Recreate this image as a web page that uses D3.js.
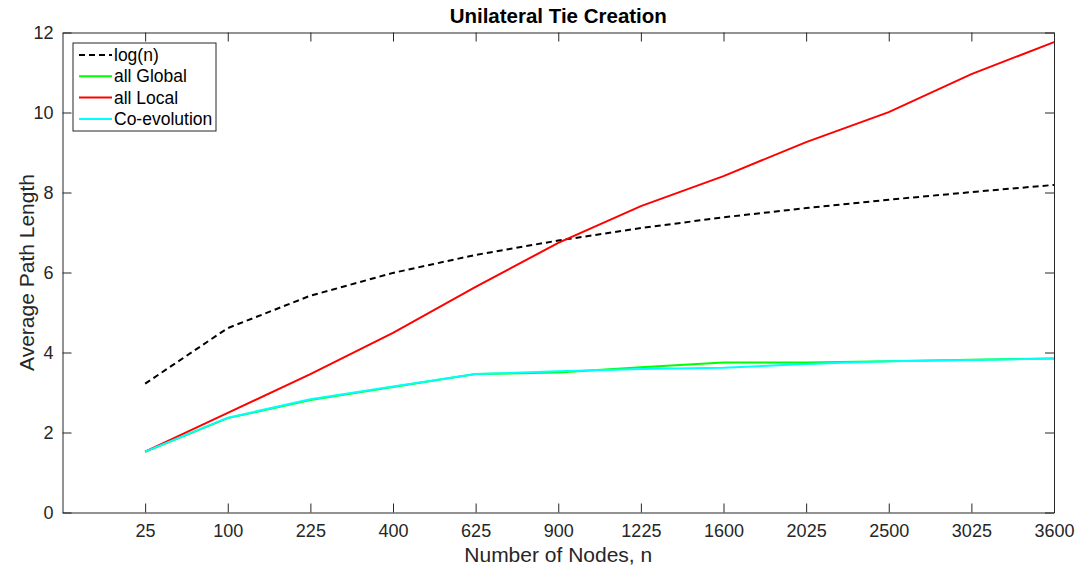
<!DOCTYPE html>
<html>
<head>
<meta charset="utf-8">
<script src="https://cdn.jsdelivr.net/npm/d3@7"></script>
<style>
  body { margin: 0; background: #fff; }
  text { font-family: "Liberation Sans", Arial, Helvetica, sans-serif; fill: #262626; }
</style>
</head>
<body>
<div id="chart"></div>
<script>
// node counts shown on the x axis (plotted at evenly spaced positions 1..12)
const nodes = ["25", "100", "225", "400", "625", "900", "1225", "1600", "2025", "2500", "3025", "3600"];

const logN        = [3.22, 4.61, 5.42, 5.99, 6.44, 6.80, 7.11, 7.38, 7.61, 7.82, 8.01, 8.19];
const allGlobal   = [1.52, 2.36, 2.81, 3.14, 3.46, 3.50, 3.63, 3.75, 3.75, 3.78, 3.82, 3.85];
const allLocal    = [1.52, 2.49, 3.46, 4.49, 5.64, 6.74, 7.66, 8.41, 9.26, 10.01, 10.96, 11.76];
const coEvolution = [1.52, 2.37, 2.83, 3.15, 3.46, 3.53, 3.59, 3.62, 3.71, 3.78, 3.81, 3.85];

const yTicks = [0, 2, 4, 6, 8, 10, 12];

const series = [
  { name: "log(n)", values: logN, color: "#000000", dash: "6,4" },
  { name: "all Global", values: allGlobal, color: "#00ff00", dash: null },
  { name: "all Local", values: allLocal, color: "#ff0000", dash: null },
  { name: "Co-evolution", values: coEvolution, color: "#00ffff", dash: null }
];

const width = 1083, height = 573;
const margin = { top: 32.5, right: 29, bottom: 60.5, left: 62.5 };
const w = width - margin.left - margin.right;
const h = height - margin.top - margin.bottom;

const svg = d3.select("#chart").append("svg")
  .attr("width", width)
  .attr("height", height);

const g = svg.append("g")
  .attr("transform", "translate(" + margin.left + "," + margin.top + ")");

const x = d3.scaleLinear().domain([0, 12]).range([0, w]);
const y = d3.scaleLinear().domain([0, 12]).range([h, 0]);

const axisColor = "#262626";
const tickLen = 9;

// bottom / top axes, ticks pointing inwards
const xAxis = d3.axisBottom(x)
  .tickValues(d3.range(1, 13))
  .tickFormat(function(d) { return nodes[d - 1]; })
  .tickSizeInner(-tickLen).tickSizeOuter(0).tickPadding(18);

const gx = g.append("g").attr("transform", "translate(0," + h + ")").call(xAxis);
const gxTop = g.append("g").call(d3.axisTop(x).tickValues(d3.range(1, 13)).tickFormat("")
  .tickSizeInner(-tickLen).tickSizeOuter(0));

const yAxis = d3.axisLeft(y)
  .tickValues(yTicks)
  .tickSizeInner(-tickLen).tickSizeOuter(0).tickPadding(9);

const gy = g.append("g").call(yAxis);
const gyRight = g.append("g").attr("transform", "translate(" + w + ",0)")
  .call(d3.axisRight(y).tickValues(yTicks).tickFormat("").tickSizeInner(-tickLen).tickSizeOuter(0));

[gx, gxTop, gy, gyRight].forEach(function(a) {
  a.attr("font-size", null).attr("font-family", null);
  a.select(".domain").attr("stroke", axisColor).attr("stroke-width", 1);
  a.selectAll(".tick line").attr("stroke", axisColor).attr("stroke-width", 1);
  a.selectAll(".tick text").attr("fill", axisColor)
    .style("font-family", "'Liberation Sans', Arial, sans-serif")
    .style("font-size", "18px");
});
gx.selectAll(".tick text").attr("dy", "0.35em");

// lines
const line = d3.line()
  .x(function(d, i) { return x(i + 1); })
  .y(function(d) { return y(d); });

series.forEach(function(s) {
  g.append("path")
    .datum(s.values)
    .attr("fill", "none")
    .attr("stroke", s.color)
    .attr("stroke-width", 2)
    .attr("stroke-dasharray", s.dash)
    .attr("d", line);
});

// title & labels
g.append("text")
  .attr("x", w / 2).attr("y", -9.5)
  .attr("text-anchor", "middle")
  .style("font-size", "20.5px").style("font-weight", "bold")
  .style("fill", "#000")
  .text("Unilateral Tie Creation");

g.append("text")
  .attr("x", w / 2).attr("y", h + 49)
  .attr("text-anchor", "middle")
  .style("font-size", "21px")
  .text("Number of Nodes, n");

g.append("text")
  .attr("transform", "translate(" + (-29) + "," + (h / 2) + ") rotate(-90)")
  .attr("text-anchor", "middle")
  .style("font-size", "21px")
  .text("Average Path Length");

// legend
const legend = g.append("g").attr("transform", "translate(10.5,10.5)");
legend.append("rect")
  .attr("width", 143).attr("height", 88)
  .attr("fill", "#fff").attr("stroke", axisColor).attr("stroke-width", 1);

series.forEach(function(s, i) {
  const ly = 12 + i * 21.3;
  legend.append("line")
    .attr("x1", 6).attr("x2", 39).attr("y1", ly).attr("y2", ly)
    .attr("stroke", s.color).attr("stroke-width", 2)
    .attr("stroke-dasharray", s.dash);
  legend.append("text")
    .attr("x", 41).attr("y", ly).attr("dy", "0.35em")
    .style("font-size", "17.5px").style("fill", "#000")
    .text(s.name);
});
</script>
</body>
</html>
